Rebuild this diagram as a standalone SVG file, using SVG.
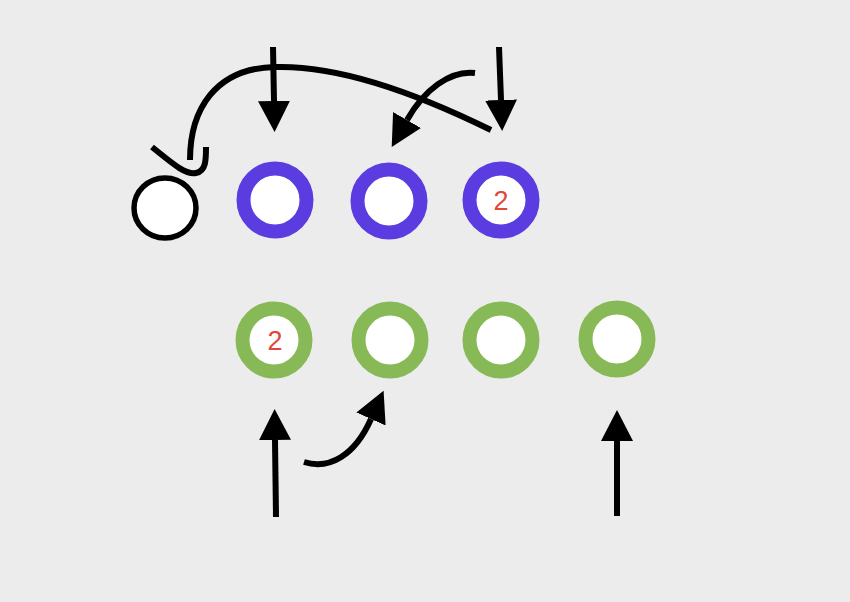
<svg xmlns="http://www.w3.org/2000/svg" width="850" height="602" viewBox="0 0 850 602">
  <style>
    .bg { fill: #ececec; }
    .purple { fill: #ffffff; stroke: #5a3ce0; stroke-width: 14; }
    .green { fill: #ffffff; stroke: #88b957; stroke-width: 14; }
    .plain { fill: #ffffff; stroke: #000000; stroke-width: 5.5; }
    .lbl { font-family: "Liberation Sans", Arial, sans-serif; font-size: 27px; fill: #e4463c; text-anchor: middle; }
    .line { fill: none; stroke: #000000; stroke-width: 6; }
  </style>
  <defs>
    <marker id="ah" markerUnits="userSpaceOnUse" markerWidth="32" markerHeight="34" viewBox="0 0 32 34" refX="0" refY="17" orient="auto">
      <path d="M0,1 L31,17 L0,33 z" fill="#000000"/>
    </marker>
  </defs>
  <rect class="bg" x="0" y="0" width="850" height="602"/>

  <g id="node-black">
    <ellipse class="plain" cx="165" cy="208" rx="31" ry="30"/>
  </g>
  <g id="node-p1"><circle class="purple" cx="275" cy="200" r="31.5"/></g>
  <g id="node-p2"><circle class="purple" cx="389" cy="201" r="31.5"/></g>
  <g id="node-p3"><circle class="purple" cx="501" cy="200" r="31.5"/><text class="lbl" x="501" y="210">2</text></g>

  <g id="node-g1"><circle class="green" cx="274" cy="340" r="31.5"/><text class="lbl" x="275" y="350">2</text></g>
  <g id="node-g2"><circle class="green" cx="390" cy="340" r="31.5"/></g>
  <g id="node-g3"><circle class="green" cx="501" cy="340" r="31.5"/></g>
  <g id="node-g4"><circle class="green" cx="617" cy="339" r="31.5"/></g>

  <g id="connectors">
    <path class="line" d="M273,47 L274,101" marker-end="url(#ah)"/>
    <path class="line" d="M499,47 L501,100" marker-end="url(#ah)"/>
    <path class="line" d="M475,73 C 450,70 424,90 407,120" marker-end="url(#ah)"/>
    <path class="line" d="M491,130 C 420,95 340,65 275,67 C 215,68 190,110 190,160"/>
    <path class="line" d="M152,147 C 172,163 185,175 196,173 C 206,171 206,160 206,147"/>
    <path class="line" d="M276,517 L275,440" marker-end="url(#ah)"/>
    <path class="line" d="M304,462 C 330,470 355,455 371,419" marker-end="url(#ah)"/>
    <path class="line" d="M617,516 L617,441" marker-end="url(#ah)"/>
  </g>
</svg>
